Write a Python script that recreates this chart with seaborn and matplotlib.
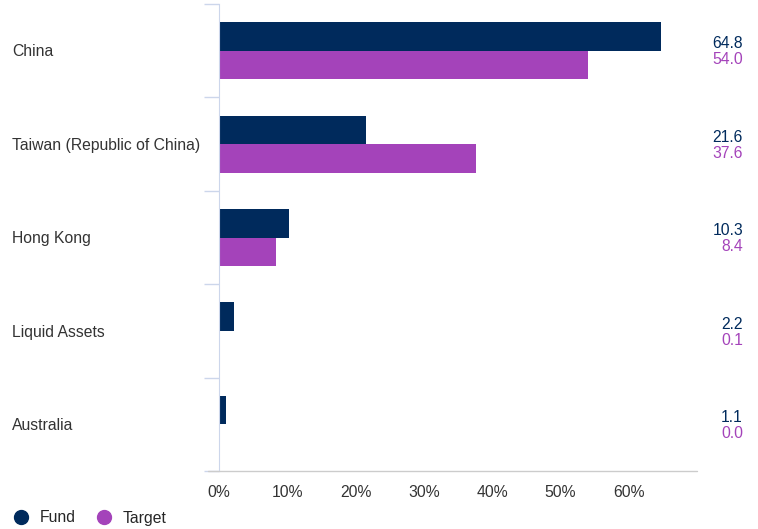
import pandas as pd
import matplotlib.pyplot as plt
import seaborn as sns
from matplotlib.lines import Line2D

# --- Data ---
countries = ['China', 'Taiwan (Republic of China)', 'Hong Kong', 'Liquid Assets', 'Australia']
fund = [64.8, 21.6, 10.3, 2.2, 1.1]
target = [54.0, 37.6, 8.4, 0.1, 0.0]
series = ['Fund', 'Target']
colors = {'Fund': '#002a5c', 'Target': '#a443ba'}
x_ticks = [0, 10, 20, 30, 40, 50, 60]

df = pd.DataFrame({
    'Country': countries * 2,
    'Series': ['Fund'] * len(countries) + ['Target'] * len(countries),
    'Value': fund + target,
})

sns.set_style('white')
plt.rcParams['font.family'] = ['Liberation Sans', 'DejaVu Sans']
FS = 11.3

fig = plt.figure(figsize=(7.58, 5.29), dpi=100)
ax = fig.add_axes([0.2889, 0.1096, 0.6306, 0.8828])

sns.barplot(data=df, y='Country', x='Value', hue='Series', order=countries,
            hue_order=series, palette=colors, orient='h', width=0.61,
            saturation=1, legend=False, linewidth=0, ax=ax)

ax.set_xlim(0, 70)
ax.set_ylim(len(countries) - 0.5, -0.5)
ax.set_xlabel('')
ax.set_ylabel('')
ax.set_xticks(x_ticks)
ax.set_xticklabels([f'{t}%' for t in x_ticks], fontsize=FS, color='#333333')
ax.set_yticks([i - 0.5 for i in range(len(countries) + 1)])
ax.set_yticklabels([])
ax.tick_params(axis='y', left=True, direction='out', length=11, color='#ccd6eb', width=1)
ax.tick_params(axis='x', length=0, pad=10)

for spine in ['top', 'right']:
    ax.spines[spine].set_visible(False)
ax.spines['left'].set_color('#ccd6eb')
# bottom axis line reaches a little to the left of the category axis
ax.spines['bottom'].set_visible(False)
fig.add_artist(Line2D([208 / 758, 697 / 758], [1 - 471 / 529, 1 - 471 / 529],
                      color='#cccccc', linewidth=1))

# category labels on the far left
for i, name in enumerate(countries):
    fig.text(12 / 758, 1 - (52 + i * 93.4) / 529, name, ha='left', va='center',
             fontsize=FS, color='#333333')

# value labels on the right
for i in range(len(countries)):
    yc = 51 + i * 93.4
    fig.text(743 / 758, 1 - (yc - 7) / 529, f'{fund[i]:.1f}', ha='right',
             va='center', fontsize=FS, color=colors['Fund'])
    fig.text(743 / 758, 1 - (yc + 9) / 529, f'{target[i]:.1f}', ha='right',
             va='center', fontsize=FS, color=colors['Target'])

# legend
handles = [Line2D([0], [0], marker='o', linestyle='', markersize=10,
                  markerfacecolor=colors[s], markeredgecolor=colors[s], label=s)
           for s in series]
fig.legend(handles=handles, loc='center left', bbox_to_anchor=(0.004, 1 - 518 / 529),
           ncol=2, frameon=False, fontsize=FS, handletextpad=0.45,
           columnspacing=1.05, borderaxespad=0, handlelength=1.5)

fig.savefig('out.png', dpi=100)
